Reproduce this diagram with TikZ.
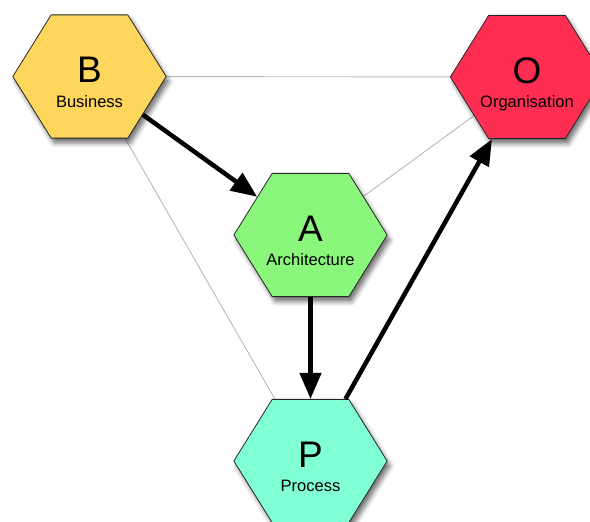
\documentclass[tikz,border=0pt]{standalone}
\usepackage{fontspec}
\setmainfont{Liberation Sans}
\usetikzlibrary{shapes.geometric,arrows.meta,shadows.blur,backgrounds}

\definecolor{bizyellow}{HTML}{FED65C}
\definecolor{orgred}{HTML}{FE2D52}
\definecolor{archgreen}{HTML}{8AF67C}
\definecolor{procaqua}{HTML}{80FED4}

\begin{document}
\begin{tikzpicture}[x=1pt,y=-1pt,
  hexa/.style={regular polygon, regular polygon sides=6, minimum size=146pt,
    xscale=1.05, yscale=0.975,
    inner sep=0pt, draw=black!85, line width=0.8pt,
    blur shadow={shadow xshift=3pt, shadow yshift=-5pt,
      shadow blur radius=4.5pt, shadow opacity=55}},
  initial/.style={font=\fontsize{37}{37}\selectfont, anchor=base, inner sep=0pt},
  caption/.style={font=\fontsize{16.5}{16.5}\selectfont, anchor=base, inner sep=0pt},
  link/.style={draw=black!28, line width=0.9pt},
  flow/.style={draw=black, line width=4.5pt, -{Triangle[length=26pt,width=21pt]}}]
\useasboundingbox (0,0) rectangle (590,522);

% the four hexagons
\node[hexa, fill=bizyellow] (B) at (89.5,76.5) {};
\node[hexa, fill=orgred]    (O) at (527,77)    {};
\node[hexa, fill=archgreen] (A) at (310.5,235) {};
\node[hexa, fill=procaqua]  (P) at (310.5,461) {};

% letters and captions
\node[initial] (Bl) at ([yshift=-6pt]B.center) {B};
\node[caption] (Bc) at ([yshift=-30.5pt]B.center) {Business};
\node[initial] (Ol) at ([yshift=-6pt]O.center) {O};
\node[caption] (Oc) at ([yshift=-30.5pt]O.center) {Organisation};
\node[initial] (Al) at ([yshift=-6pt]A.center) {A};
\node[caption] (Ac) at ([yshift=-30.5pt]A.center) {Architecture};
\node[initial] (Pl) at ([yshift=-6pt]P.center) {P};
\node[caption] (Pc) at ([yshift=-30.5pt]P.center) {Process};

% thin grey relations behind the hexagons
\begin{scope}[on background layer]
  \draw[link] (B.center) -- (O.center);
  \draw[link] (B.center) -- (P.center);
  \draw[link] (A.center) -- (O.center);
\end{scope}

% black flow arrows
\draw[flow] (B) -- (A);
\draw[flow] (A) -- (P);
\draw[flow] (P) -- (O);
\end{tikzpicture}
\end{document}
